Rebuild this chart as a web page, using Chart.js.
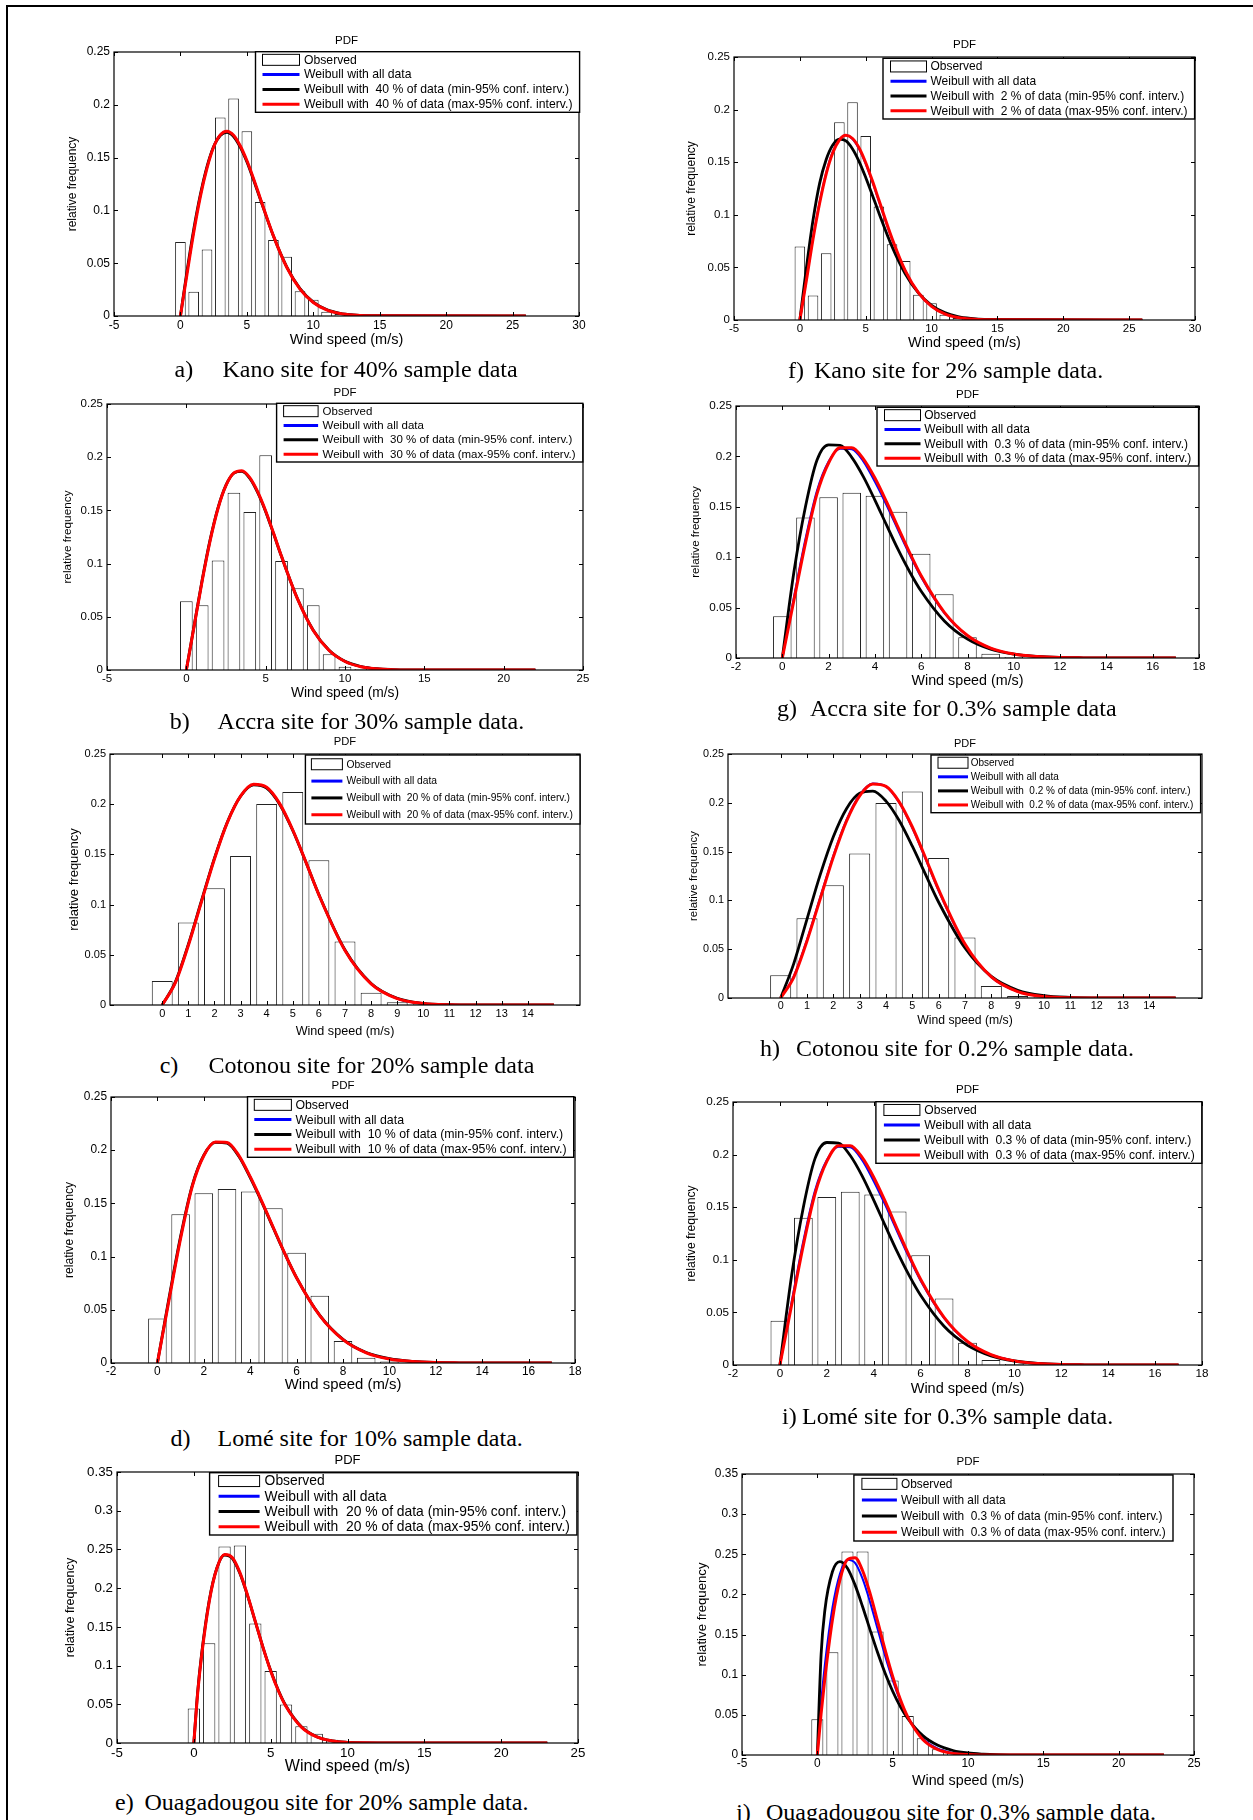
<!DOCTYPE html>
<html><head><meta charset="utf-8">
<script src="https://cdn.jsdelivr.net/npm/chart.js@4.4.1/dist/chart.umd.min.js"></script>
<style>
html,body{margin:0;padding:0;background:#fff;}
body{width:1253px;height:1820px;position:relative;overflow:hidden;}
#frame{position:absolute;left:6px;top:5px;right:-10px;bottom:-10px;border-left:2px solid #000;border-top:2px solid #000;}
.cap{position:absolute;font-family:'Liberation Serif','Times New Roman',serif;font-size:24px;line-height:28px;white-space:nowrap;color:#000;}
</style></head><body><div id="frame"></div>
<script>
// ---------- DATA ----------
const binCentres = [0,1,2,3,4,5,6,7,8,9,10,11,12,13];          // wind speed bins (m/s)
const curveX      = [0,0.5,1,1.5,2,2.5,3,3.5,4,4.5,5,5.5,6,7,8,9,10,11,12,13,14];
const curveXOuaga = [0,0.25,0.5,1,1.5,2,2.5,3,3.5,4,4.5,5,5.5,6,7,8,9,10,11,12,13,14];

// observed relative frequencies
const kano40Obs    = [0.070,0.023,0.063,0.188,0.206,0.175,0.108,0.072,0.056,0.0234,0.0155,0.004,0.002,0.0008];
const kano2Obs     = [0.0698,0.0232,0.0635,0.188,0.207,0.175,0.108,0.072,0.056,0.024,0.016,0.005,0.002,0.0008];
const accra30Obs   = [0.0645,0.0608,0.103,0.1667,0.1485,0.2018,0.1024,0.0768,0.0608,0.0147,0.003,0.001];
const accra03Obs   = [0.0413,0.1395,0.1594,0.164,0.161,0.145,0.1035,0.0632,0.0205,0.0043,0.001];
const cotonou20Obs = [0.024,0.0822,0.1162,0.1485,0.2001,0.2121,0.1441,0.0632,0.0123,0.0027,0.0007];
const cotonou02Obs = [0.0233,0.0818,0.1154,0.148,0.1997,0.2116,0.1435,0.062,0.0123,0.002,0.0007];
const lome10Obs    = [0.0418,0.1398,0.1595,0.1636,0.1611,0.1454,0.1036,0.0631,0.0207,0.005,0.0013];
const lome03Obs    = [0.042,0.140,0.1598,0.1646,0.162,0.1459,0.1044,0.0633,0.0212,0.0047,0.001];
const ouaga20Obs   = [0.0445,0.1288,0.2537,0.255,0.1543,0.0929,0.0497,0.0216,0.0121,0.0043,0.0013];
const ouaga03Obs   = [0.0445,0.128,0.2535,0.2535,0.1538,0.0927,0.0486,0.0208,0.0071,0.003,0.001];

// Weibull curves (values read at curveX / curveXOuaga)
const kano40All = [0,0.041,0.080,0.114,0.141,0.1605,0.1717,0.175,0.171,0.161,0.147,0.130,0.1116,0.0758,0.0463,0.0257,0.0129,0.0059,0.0025,0.0010,0.0003];
const kano40Min = [0,0.043,0.082,0.115,0.1415,0.1605,0.171,0.174,0.170,0.160,0.146,0.129,0.111,0.0757,0.0466,0.026,0.0132,0.0061,0.0026,0.0010,0.0004];
const kano40Max = [0,0.040,0.079,0.113,0.140,0.160,0.1715,0.175,0.1712,0.1612,0.1472,0.1302,0.1118,0.0759,0.0462,0.0255,0.0128,0.0058,0.0024,0.0009,0.0003];
const kano2All  = [0,0.039,0.078,0.112,0.140,0.160,0.1715,0.1755,0.172,0.1625,0.1485,0.1315,0.113,0.0768,0.0468,0.0258,0.0129,0.0058,0.0024,0.0009,0.0003];
const kano2Min  = [0,0.050,0.095,0.1299,0.1526,0.1664,0.1719,0.1702,0.1626,0.1506,0.1355,0.1189,0.1018,0.0698,0.0440,0.0257,0.0139,0.0070,0.0033,0.0015,0.0006];
const kano2Max  = [0,0.038,0.077,0.111,0.139,0.159,0.171,0.1755,0.1725,0.1635,0.1495,0.1325,0.114,0.0775,0.047,0.026,0.013,0.0058,0.0024,0.0009,0.0003];

const accra30All = [0,0.0420,0.0841,0.1218,0.1522,0.1736,0.1852,0.1871,0.1806,0.1672,0.1493,0.1283,0.1067,0.0671,0.0372,0.0184,0.0081,0.0032,0.0011,0.0003,0.0001];
const accra30Min = [0,0.0425,0.0848,0.1225,0.1527,0.1738,0.1850,0.1866,0.1800,0.1666,0.1488,0.1280,0.1066,0.0672,0.0374,0.0186,0.0082,0.0033,0.0012,0.0004,0.0001];
const accra30Max = [0,0.0418,0.0838,0.1215,0.1520,0.1735,0.1852,0.1873,0.1808,0.1674,0.1495,0.1285,0.1068,0.0670,0.0371,0.0183,0.0080,0.0031,0.0011,0.0003,0.0001];
const accra03All = [0,0.060,0.118,0.1662,0.195,0.2075,0.207,0.195,0.1747,0.1517,0.1269,0.1025,0.0801,0.0446,0.0220,0.0097,0.0039,0.0014,0.0004,0.0001,0];
const accra03Min = [0,0.085,0.150,0.1964,0.2115,0.2110,0.1991,0.180,0.1567,0.132,0.1077,0.0856,0.0662,0.0368,0.0187,0.0087,0.0038,0.0015,0.0005,0.0002,0.0001];
const accra03Max = [0,0.057,0.114,0.163,0.1935,0.2085,0.2085,0.1975,0.1785,0.1550,0.1295,0.1045,0.0815,0.0453,0.0223,0.0098,0.0039,0.0014,0.0004,0.0001,0];

const cotonou20All = [0,0.0223,0.0597,0.1029,0.1458,0.1824,0.2081,0.2197,0.2166,0.2003,0.1741,0.1425,0.1098,0.0545,0.0212,0.0065,0.0015,0.0002,0,0,0];
const cotonou20Min = [0,0.0228,0.0604,0.1036,0.1463,0.1826,0.2079,0.2192,0.2160,0.1998,0.1738,0.1424,0.1099,0.0548,0.0215,0.0067,0.0016,0.0003,0,0,0];
const cotonou20Max = [0,0.0220,0.0593,0.1025,0.1455,0.1822,0.2081,0.2199,0.2169,0.2006,0.1743,0.1426,0.1097,0.0543,0.0211,0.0064,0.0015,0.0002,0,0,0];
const cotonou02All = [0,0.0223,0.0597,0.1029,0.1458,0.1824,0.2081,0.2197,0.2166,0.2003,0.1741,0.1425,0.1098,0.0545,0.0212,0.0065,0.0015,0.0002,0,0,0];
const cotonou02Min = [0,0.0355,0.0809,0.1261,0.1652,0.194,0.2097,0.212,0.2017,0.1818,0.1555,0.1266,0.0981,0.0512,0.0221,0.0080,0.0024,0.0006,0.0001,0,0];
const cotonou02Max = [0,0.0215,0.0585,0.1015,0.1445,0.1812,0.2072,0.2192,0.2168,0.2010,0.1752,0.1437,0.1110,0.0553,0.0216,0.0066,0.0015,0.0002,0,0,0];

const lome10All = [0,0.060,0.118,0.1662,0.195,0.2075,0.207,0.195,0.1747,0.1517,0.1269,0.1025,0.0801,0.0446,0.0220,0.0097,0.0039,0.0014,0.0004,0.0001,0];
const lome10Min = [0,0.061,0.119,0.1668,0.1953,0.2074,0.2066,0.1945,0.1742,0.1512,0.1266,0.1023,0.0800,0.0447,0.0222,0.0098,0.0040,0.0015,0.0005,0.0001,0];
const lome10Max = [0,0.059,0.117,0.1658,0.1948,0.2076,0.2073,0.1954,0.1751,0.1520,0.1271,0.1026,0.0802,0.0445,0.0219,0.0096,0.0038,0.0014,0.0004,0.0001,0];
const lome03All = [0,0.060,0.118,0.1662,0.195,0.2075,0.207,0.195,0.1747,0.1517,0.1269,0.1025,0.0801,0.0446,0.0220,0.0097,0.0039,0.0014,0.0004,0.0001,0];
const lome03Min = [0,0.085,0.150,0.1964,0.2115,0.2110,0.1991,0.180,0.1567,0.132,0.1077,0.0856,0.0662,0.0368,0.0187,0.0087,0.0038,0.0015,0.0005,0.0002,0.0001];
const lome03Max = [0,0.057,0.114,0.163,0.1935,0.2085,0.2085,0.1975,0.1785,0.1550,0.1295,0.1045,0.0815,0.0453,0.0223,0.0098,0.0039,0.0014,0.0004,0.0001,0];

const ouaga20All = [0,0.0652,0.1125,0.1831,0.2258,0.2431,0.2392,0.2196,0.1904,0.1569,0.1235,0.0933,0.0677,0.0473,0.0207,0.0079,0.0027,0.0008,0.0002,0,0,0];
const ouaga20Min = [0,0.0665,0.1140,0.1840,0.2260,0.2428,0.2386,0.2190,0.1900,0.1567,0.1236,0.0936,0.0681,0.0477,0.0210,0.0081,0.0028,0.0009,0.0002,0.0001,0,0];
const ouaga20Max = [0,0.0645,0.1115,0.1825,0.2256,0.2433,0.2396,0.2200,0.1907,0.1571,0.1235,0.0931,0.0675,0.0471,0.0205,0.0078,0.0026,0.0008,0.0002,0,0,0];
const ouaga03All = [0,0.0652,0.1125,0.1831,0.2258,0.2431,0.2392,0.2196,0.1904,0.1569,0.1235,0.0933,0.0677,0.0473,0.0207,0.0079,0.0027,0.0008,0.0002,0,0,0];
const ouaga03Min = [0,0.125,0.1803,0.2282,0.2408,0.2326,0.2119,0.185,0.1559,0.1276,0.1018,0.0794,0.0606,0.0454,0.0241,0.0120,0.0056,0.0025,0.0011,0.0004,0.0002,0.0001];
const ouaga03Max = [0,0.0514,0.0955,0.1682,0.218,0.2433,0.2458,0.2298,0.2013,0.1666,0.1308,0.0977,0.0696,0.0475,0.0194,0.0067,0.0020,0.0005,0.0001,0,0,0];

// end of plotted curve range (m/s)
const kanoEnd = 26, accra30End = 22, accra03End = 17, cotonouEnd = 15, lomeEnd = 17, ouagaEnd = 23;

// sample percentages used in legends
const samplePct = {a:'40', f:'2', b:'30', g:'0.3', c:'20', h:'0.2', d:'10', i:'0.3', e:'20', j:'0.3'};

// captions
const captionLabels = {
  a:['a)','Kano site for 40% sample data'], f:['f)','Kano site for 2% sample data.'],
  b:['b)','Accra site for 30% sample data.'], g:['g)','Accra site for 0.3% sample data'],
  c:['c)','Cotonou site for 20% sample data'], h:['h)','Cotonou site for 0.2% sample data.'],
  d:['d)','Lomé site for 10% sample data.'], i:['i)','Lomé site for 0.3% sample data.'],
  e:['e)','Ouagadougou site for 20% sample data.'], j:['j)','Ouagadougou site for 0.3% sample data.']
};

// ---------- LAYOUT / STYLE ----------
const FONT = "'Liberation Sans', Arial, Helvetica, sans-serif";
const PADL = 62, PADT = 24, PADR = 12, PADB = 42;

const panels = [
 {id:'a', rect:[113.8,52.3,578.8,315.7], xs:[-5,30,5], ymax:0.25, obs:kano40Obs, cx:curveX, blue:kano40All, black:kano40Min, red:kano40Max, end:kanoEnd,
  legend:[255.5,51.7,579.6,112.3], samp:[7,44,48.5], tOff:11.6, xOff:24.3, yOff:41.8, tick:12, xlab:14.5, ylab:12, title:11.5,
  cap:[174.5,222.4,369.3]},
 {id:'f', rect:[734,57.3,1194.6,320], xs:[-5,30,5], ymax:0.25, obs:kano2Obs, cx:curveX, blue:kano2All, black:kano2Min, red:kano2Max, end:kanoEnd,
  legend:[883,58.3,1194.6,119], samp:[7.5,43.5,47.5], tOff:12.3, xOff:22.7, yOff:42, tick:11.5, xlab:14.4, ylab:12, title:11.5,
  cap:[788,814,370]},
 {id:'b', rect:[107,404,582.8,670], xs:[-5,25,5], ymax:0.25, obs:accra30Obs, cx:curveX, blue:accra30All, black:accra30Min, red:accra30Max, end:accra30End,
  legend:[276.6,403.3,582.8,462], samp:[7,41.5,46], tOff:10.7, xOff:23.3, yOff:39.1, tick:11.5, xlab:13.8, ylab:11.8, title:11.5,
  cap:[169.7,217.6,720.5]},
 {id:'g', rect:[736,406,1198.6,658], xs:[-2,18,2], ymax:0.25, obs:accra03Obs, cx:curveX, blue:accra03All, black:accra03Min, red:accra03Max, end:accra03End,
  legend:[877,407.3,1198.6,466], samp:[7.5,43.5,47.3], tOff:11, xOff:23, yOff:40, tick:11.7, xlab:14.3, ylab:11.6, title:11.5,
  cap:[777,810,707.7]},
 {id:'c', rect:[109.8,754.3,580,1005], xs:[-2,16,1], tickRange:[0,14], ymax:0.25, obs:cotonou20Obs, cx:curveX, blue:cotonou20All, black:cotonou20Min, red:cotonou20Max, end:cotonouEnd,
  legend:[305.4,755,580,824], samp:[6,37,41], tOff:11.6, xOff:26.7, yOff:35.9, tick:11, xlab:12.6, ylab:13, title:11.2,
  cap:[159.7,208.4,1065]},
 {id:'h', rect:[728,754.3,1201.8,997.7], xs:[-2,16,1], tickRange:[0,14], ymax:0.25, obs:cotonou02Obs, cx:curveX, blue:cotonou02All, black:cotonou02Min, red:cotonou02Max, end:cotonouEnd,
  legend:[931,755,1200.6,812.7], samp:[7,37,39.7], tOff:10, xOff:22.3, yOff:34, tick:10.8, xlab:12.2, ylab:11.4, title:11,
  cap:[760,796,1048.3]},
 {id:'d', rect:[111,1097.3,574.9,1362.7], xs:[-2,18,2], ymax:0.25, obs:lome10Obs, cx:curveX, blue:lome10All, black:lome10Min, red:lome10Max, end:lomeEnd,
  legend:[247.5,1096.7,573.7,1157.3], samp:[6.8,43.9,47.9], tOff:11.3, xOff:22.3, yOff:41.1, tick:11.9, xlab:14.9, ylab:12.2, title:11.5,
  cap:[170.5,217.6,1438.3]},
 {id:'i', rect:[733.2,1101.7,1201.8,1365], xs:[-2,18,2], ymax:0.25, obs:lome03Obs, cx:curveX, blue:lome03All, black:lome03Min, red:lome03Max, end:lomeEnd,
  legend:[875.9,1101.7,1201.8,1163.3], samp:[8,44,48.4], tOff:12.4, xOff:24, yOff:41.2, tick:11.7, xlab:14.5, ylab:12.2, title:11.5,
  cap:[782,802,1416]},
 {id:'e', rect:[117,1472.3,578,1742.7], xs:[-5,25,5], ymax:0.35, obs:ouaga20Obs, cx:curveXOuaga, blue:ouaga20All, black:ouaga20Min, red:ouaga20Max, end:ouagaEnd,
  legend:[209.6,1472.7,576.9,1535], samp:[9,50,55], tOff:11.6, xOff:24, yOff:46, tick:13.3, xlab:16, ylab:12.6, title:13,
  cap:[115,144.5,1801.7]},
 {id:'j', rect:[742,1474.3,1193.8,1755], xs:[-5,25,5], ymax:0.35, obs:ouaga03Obs, cx:curveXOuaga, blue:ouaga03All, black:ouaga03Min, red:ouaga03Max, end:ouagaEnd,
  legend:[853.9,1475,1173,1541], samp:[8,43,47], tOff:12, xOff:25.7, yOff:40, tick:11.9, xlab:14.3, ylab:13.2, title:11.5,
  cap:[736,766,1811.7]}
];

function curvePts(xs, ys, end) {
  return xs.map((x, i) => ({x, y: ys[i]})).concat([{x: end, y: 0}]);
}
function fmtY(v) { return String(Math.round(v * 100) / 100); }

function decorPlugin(p, labels, org) {
  return {
    id: 'decor',
    afterDraw(chart) {
      const ctx = chart.ctx;
      const {left, top, right, bottom} = chart.chartArea;
      const sx = chart.scales.x, sy = chart.scales.y;
      ctx.save();
      ctx.strokeStyle = '#000';
      ctx.lineWidth = 1;
      ctx.beginPath();
      sx.ticks.forEach(t => {
        const px = Math.round(sx.getPixelForValue(t.value)) + 0.5;
        ctx.moveTo(px, bottom); ctx.lineTo(px, bottom - 4);
        ctx.moveTo(px, top); ctx.lineTo(px, top + 4);
      });
      sy.ticks.forEach(t => {
        const py = Math.round(sy.getPixelForValue(t.value)) + 0.5;
        ctx.moveTo(left, py); ctx.lineTo(left + 4, py);
        ctx.moveTo(right, py); ctx.lineTo(right - 4, py);
      });
      ctx.stroke();
      ctx.lineWidth = 1.2;
      ctx.strokeRect(left, top, right - left, bottom - top);

      ctx.fillStyle = '#000';
      ctx.textAlign = 'center';
      ctx.textBaseline = 'middle';
      ctx.font = p.title + 'px ' + FONT;
      ctx.fillText('PDF', (left + right) / 2, top - p.tOff);
      ctx.font = p.xlab + 'px ' + FONT;
      ctx.fillText('Wind speed (m/s)', (left + right) / 2, bottom + p.xOff);
      ctx.save();
      ctx.translate(left - p.yOff, (top + bottom) / 2);
      ctx.rotate(-Math.PI / 2);
      ctx.font = p.ylab + 'px ' + FONT;
      ctx.fillText('relative frequency', 0, 0);
      ctx.restore();

      // legend box (MATLAB style)
      const lg = p.legend;
      const L = lg[0] - org[0], T = lg[1] - org[1], W = lg[2] - lg[0], H = lg[3] - lg[1];
      ctx.fillStyle = '#fff';
      ctx.fillRect(L, T, W, H);
      ctx.strokeStyle = '#000';
      ctx.lineWidth = 1.4;
      ctx.strokeRect(L, T, W, H);
      ctx.font = '12px ' + FONT;
      let mw = 0;
      labels.forEach(s => { mw = Math.max(mw, ctx.measureText(s).width); });
      const fs = 12 * (W - p.samp[2] - 7) / mw;
      ctx.font = fs.toFixed(2) + 'px ' + FONT;
      const rowH = H / 4.1;
      const cols = [null, '#0000ff', '#000000', '#ff0000'];
      labels.forEach((s, i) => {
        const cy = T + rowH * (i + 0.55);
        if (i === 0) {
          ctx.fillStyle = '#fff'; ctx.strokeStyle = '#000'; ctx.lineWidth = 1;
          ctx.fillRect(L + p.samp[0], cy - 5.5, p.samp[1] - p.samp[0], 11);
          ctx.strokeRect(L + p.samp[0], cy - 5.5, p.samp[1] - p.samp[0], 11);
        } else {
          ctx.strokeStyle = cols[i]; ctx.lineWidth = 3;
          ctx.beginPath(); ctx.moveTo(L + p.samp[0], cy); ctx.lineTo(L + p.samp[1], cy); ctx.stroke();
        }
        ctx.fillStyle = '#000'; ctx.textAlign = 'left'; ctx.textBaseline = 'middle';
        ctx.fillText(s, L + p.samp[2], cy + 0.5);
      });
      ctx.restore();
    }
  };
}

panels.forEach(p => {
  const L = Math.round(p.rect[0]), T = Math.round(p.rect[1]), R = Math.round(p.rect[2]), B = Math.round(p.rect[3]);
  const W = R - L + PADL + PADR, H = B - T + PADT + PADB;
  const org = [L - PADL, T - PADT];
  const cv = document.createElement('canvas');
  cv.width = W; cv.height = H;
  cv.style.cssText = 'position:absolute;left:' + org[0] + 'px;top:' + org[1] + 'px;width:' + W + 'px;height:' + H + 'px;';
  document.body.appendChild(cv);
  const pct = samplePct[p.id];
  const labels = ['Observed', 'Weibull with all data',
    'Weibull with  ' + pct + ' % of data (min-95% conf. interv.)',
    'Weibull with  ' + pct + ' % of data (max-95% conf. interv.)'];
  const xScale = {
    type: 'linear', min: p.xs[0], max: p.xs[1], offset: false,
    grid: {display: false, drawTicks: false, offset: false}, border: {display: false},
    ticks: {stepSize: p.xs[2], autoSkip: false, maxRotation: 0, minRotation: 0, padding: 2, color: '#000',
            font: {family: FONT, size: p.tick}, callback: v => String(v)},
    afterFit: s => { s.height = PADB; s.paddingLeft = 0; s.paddingRight = 0; s.paddingTop = 0; s.paddingBottom = 0; }
  };
  if (p.tickRange) {
    xScale.afterBuildTicks = s => { s.ticks = s.ticks.filter(t => t.value >= p.tickRange[0] && t.value <= p.tickRange[1]); };
  }
  new Chart(cv.getContext('2d'), {
    type: 'bar',
    data: {
      datasets: [
        {type: 'bar', label: labels[0], data: p.obs.map((v, i) => ({x: binCentres[i], y: v})),
         backgroundColor: '#ffffff', borderColor: '#222222', borderWidth: 1, barPercentage: 0.8, categoryPercentage: 1, order: 4},
        {type: 'line', label: labels[1], data: curvePts(p.cx, p.blue, p.end), borderColor: '#0000ff', borderWidth: 2,
         pointRadius: 0, cubicInterpolationMode: 'monotone', fill: false, order: 3},
        {type: 'line', label: labels[2], data: curvePts(p.cx, p.black, p.end), borderColor: '#000000', borderWidth: 2.8,
         pointRadius: 0, cubicInterpolationMode: 'monotone', fill: false, order: 2},
        {type: 'line', label: labels[3], data: curvePts(p.cx, p.red, p.end), borderColor: '#ff0000', borderWidth: 3,
         pointRadius: 0, cubicInterpolationMode: 'monotone', fill: false, order: 1}
      ]
    },
    options: {
      responsive: false, animation: false, devicePixelRatio: 1,
      layout: {padding: {left: 0, top: PADT, right: PADR, bottom: 0}},
      plugins: {legend: {display: false}, tooltip: {enabled: false}, title: {display: false}},
      scales: {
        x: xScale,
        y: {
          type: 'linear', min: 0, max: p.ymax,
          grid: {display: false, drawTicks: false}, border: {display: false},
          ticks: {stepSize: 0.05, padding: 4, color: '#000', font: {family: FONT, size: p.tick}, callback: fmtY},
          afterFit: s => { s.width = PADL; s.paddingTop = 0; s.paddingBottom = 0; s.paddingLeft = 0; s.paddingRight = 0; }
        }
      }
    },
    plugins: [decorPlugin(p, labels, org)]
  });

  // caption
  const cl = captionLabels[p.id];
  const d1 = document.createElement('div');
  d1.className = 'cap'; d1.textContent = cl[0];
  d1.style.left = p.cap[0] + 'px'; d1.style.top = (p.cap[2] - 14) + 'px';
  document.body.appendChild(d1);
  const d2 = document.createElement('div');
  d2.className = 'cap'; d2.textContent = cl[1];
  d2.style.left = p.cap[1] + 'px'; d2.style.top = (p.cap[2] - 14) + 'px';
  document.body.appendChild(d2);
});
</script></body></html>
